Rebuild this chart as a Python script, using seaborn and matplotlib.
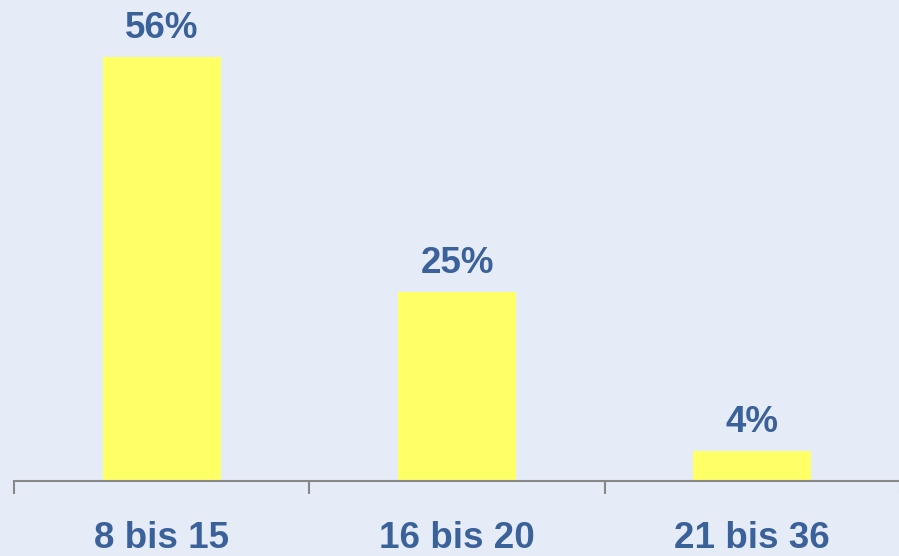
import matplotlib
matplotlib.use("Agg")
import matplotlib.pyplot as plt
import seaborn as sns
import pandas as pd

categories = ["8 bis 15", "16 bis 20", "21 bis 36"]
values = [56, 25, 4]
value_labels = ["56%", "25%", "4%"]

BG = "#E6ECF7"
BAR = "#FFFF66"
TXT = "#3A6199"
AXC = "#888888"

sns.set_style("white")
plt.rcParams["font.family"] = ["Liberation Sans", "DejaVu Sans"]

fig = plt.figure(figsize=(8.99, 5.56), dpi=100, facecolor=BG)
ax = fig.add_axes([14 / 899, 75 / 556, 886 / 899, 481 / 556])
ax.set_facecolor(BG)

df = pd.DataFrame({"cat": categories, "val": values})
sns.barplot(data=df, x="cat", y="val", color=BAR, saturation=1, width=0.4,
            linewidth=0, edgecolor=BAR, ax=ax)

ax.set_xlim(-0.5, 2.5)
ax.set_ylim(0, 481 / (424 / 56))

for s in ["top", "right", "left"]:
    ax.spines[s].set_visible(False)
ax.spines["bottom"].set_color(AXC)
ax.spines["bottom"].set_linewidth(1.5)
ax.set_yticks([])
ax.set_xlabel("")
ax.set_ylabel("")

ax.set_xticks([-0.5, 0.5, 1.5, 2.5])
ax.set_xticklabels([])
ax.tick_params(axis="x", which="major", bottom=True, length=9, width=1.5,
               color=AXC, direction="out")
ax.set_xticks([0, 1, 2], minor=True)
ax.set_xticklabels(categories, minor=True)
ax.tick_params(axis="x", which="minor", bottom=True, length=0, pad=28.5,
               labelsize=26.5, labelcolor=TXT)
for lbl in ax.get_xticklabels(minor=True):
    lbl.set_fontweight("bold")

for i, (v, t) in enumerate(zip(values, value_labels)):
    ax.annotate(t, xy=(i, v), xytext=(0, 8), textcoords="offset points",
                ha="center", va="bottom", fontsize=26.5, fontweight="bold", color=TXT)

fig.savefig("out.png", dpi=100, facecolor=BG)
